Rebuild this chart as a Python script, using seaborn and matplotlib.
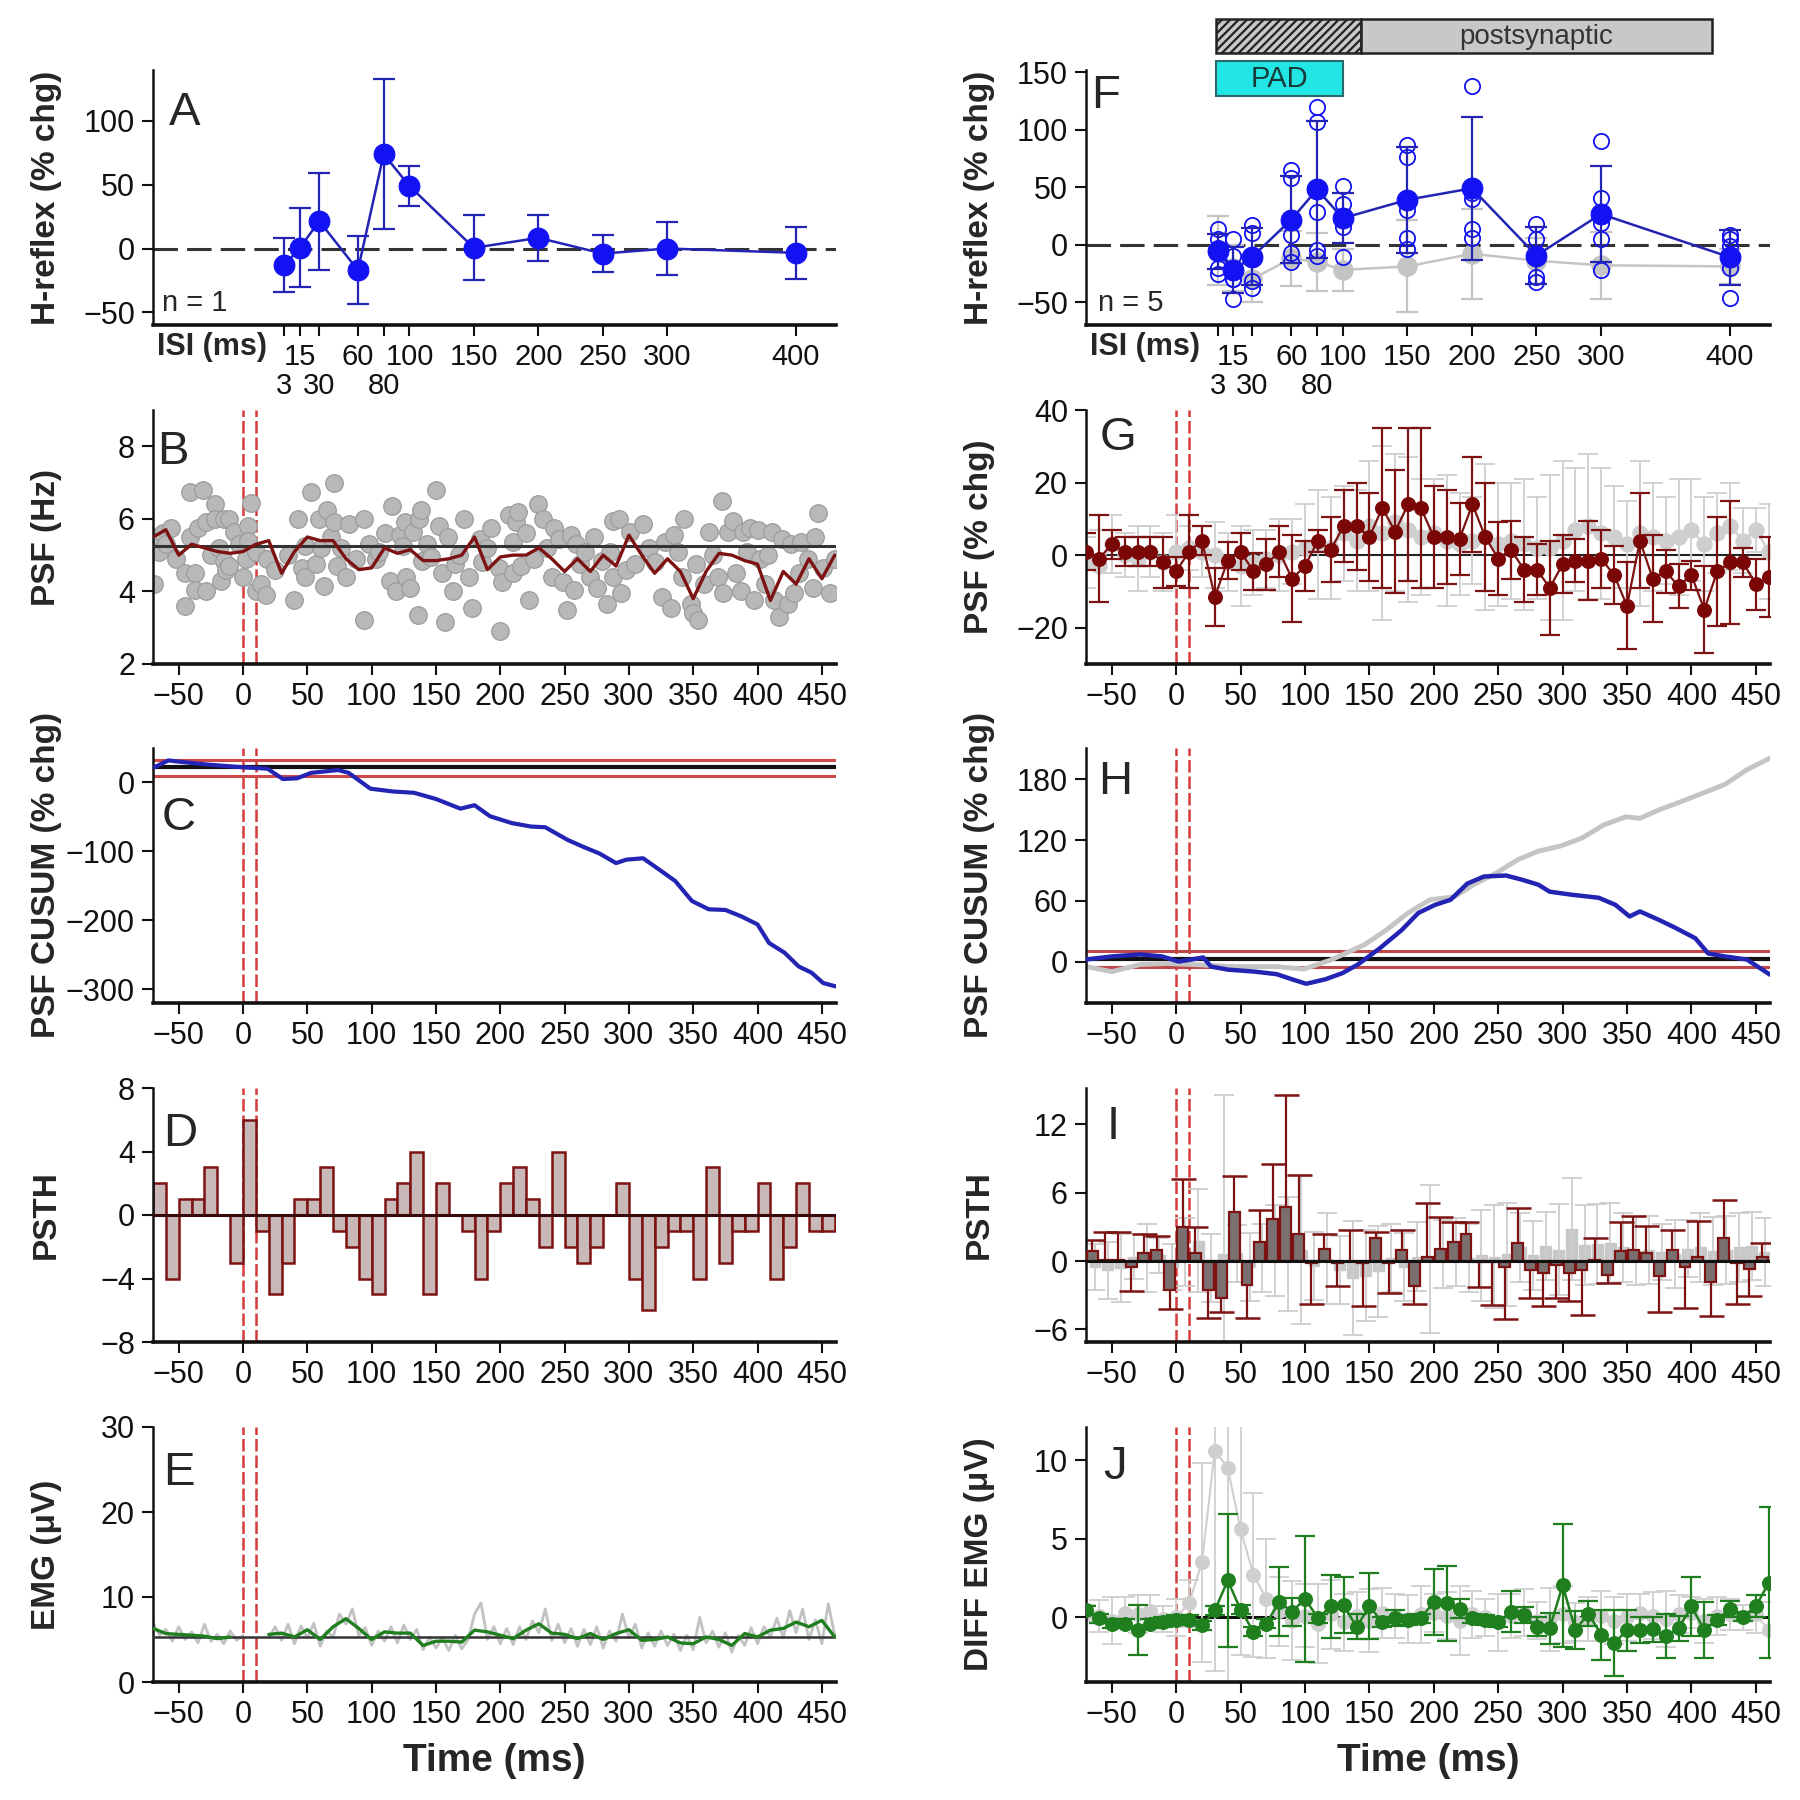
import numpy as np
import pandas as pd
import seaborn as sns
import matplotlib.pyplot as plt
import matplotlib.transforms as mtransforms
from matplotlib.patches import Rectangle

# ---------------- data ----------------
# conditioning-test intervals (A, F)
isi = [3, 15, 30, 60, 80, 100, 150, 200, 250, 300, 400]
isi_upper = [15, 60, 100, 150, 200, 250, 300, 400]
isi_lower = [3, 30, 80]
isi_upper_labels = ['15', '60', '100', '150', '200', '250', '300', '400']
isi_lower_labels = ['3', '30', '80']

hreflex_a = [-13, 0.5, 21.5, -17, 74, 49, 0.5, 8.4, -4, 0, -3.4]
hreflex_a_err = [21.5, 31, 38, 26.5, 59, 16, 25.5, 18, 14.5, 21, 20.5]

hreflex_f = [-6, -22.5, -10.5, 21.7, 48, 23, 39, 49, -9.5, 26.6, -11]
hreflex_f_err = [15, 20, 25, 38, 60, 22, 46, 62, 25, 42, 24]
hreflex_f_ctrl = [-5, -20, -30, -12, -15, -22, -19, -8, -14, -18, -19]
hreflex_f_ctrl_err = [30, 20, 20, 24, 25, 18, 40, 39, 20, 29, 15]
subj1 = [14, 5, 17, 65, 120, 51, 87, 138, 18, 90, 8]
subj2 = [5, -10, 10, 58, 107, 35, 76, 45, 5, 41, 5]
subj3 = [-3, -30, -10, 8, 28, 25, 30, 40, -10, 19, -1.5]
subj4 = [-20, -30, -32, -7, -5, 15, 6, 14, -28, 5, -20]
subj5 = [-26, -47.5, -37.5, -15.5, -10, -11, -4, 6, -32.5, -22, -46.5]

# time axes (ms)
t10 = np.arange(-70, 461, 10)
t5 = np.arange(-70, 461, 5)
psth_d_left = np.arange(-70, 451, 10)
psth_i_mid = np.arange(-65, 456, 10)

# B: single-unit PSF dots and 10 ms bin mean
psf_b_t = [-69, -68, -65, -62, -60, -56, -52, -45, -45, -41, -41, -37, -37, -35, -31, -29, -29, -25,
           -22, -22, -19, -17, -15, -15, -13, -11, -11, -7, -3, 0, 2, 4, 4, 6, 10, 10, 14, 18, 19,
           25, 35, 40, 43, 46, 48, 48, 53, 57, 59, 61, 63, 65, 68, 71, 71, 73, 76, 80, 82, 88, 94,
           94, 98, 103, 106, 110, 114, 116, 119, 122, 124, 126, 127, 130, 132, 136, 137, 138, 139,
           143, 146, 150, 152, 155, 157, 159, 163, 165, 168, 172, 176, 178, 184, 186, 190, 193, 199,
           200, 201, 207, 210, 210, 212, 214, 216, 220, 222, 226, 229, 233, 236, 240, 242, 246, 249,
           252, 255, 257, 259, 262, 266, 270, 273, 275, 279, 283, 285, 288, 288, 292, 294, 298, 301,
           305, 311, 316, 320, 326, 328, 333, 335, 338, 341, 343, 348, 350, 352, 354, 358, 362, 365,
           369, 372, 373, 377, 381, 383, 387, 389, 392, 394, 397, 400, 402, 406, 408, 411, 413, 417,
           419, 424, 426, 428, 432, 434, 439, 443, 445, 447, 451, 456, 460]
psf_b_hz = [4.2, 5.5, 5.1, 5.6, 5.3, 5.75, 4.9, 4.5, 3.6, 6.75, 5.5, 4.5, 4.05, 5.75, 6.8, 4.0, 5.9, 5.0,
            6.4, 6.0, 5.2, 4.3, 6.0, 4.85, 4.6, 6.0, 4.7, 5.65, 5.3, 4.4, 4.9, 5.8, 5.4, 6.45, 5.1, 4.0,
            4.2, 3.9, 4.9, 4.6, 5.0, 3.75, 6.0, 4.65, 5.25, 4.4, 6.75, 4.75, 6.0, 5.2, 4.15, 6.25, 5.5,
            7.0, 5.9, 4.7, 5.2, 4.4, 5.85, 4.9, 6.0, 3.2, 5.3, 4.9, 5.1, 5.6, 4.3, 6.35, 4.0, 5.55, 5.25,
            5.9, 4.4, 4.1, 5.65, 3.35, 6.0, 6.25, 4.85, 5.3, 4.95, 6.8, 5.8, 4.5, 3.15, 5.5, 4.0, 4.75,
            5.0, 6.0, 4.4, 3.55, 5.45, 4.8, 5.2, 5.75, 4.65, 2.9, 4.25, 6.1, 5.35, 4.5, 5.9, 6.2, 4.7,
            5.6, 3.75, 4.9, 6.4, 6.0, 5.2, 4.4, 5.75, 5.45, 4.25, 3.5, 5.55, 4.05, 5.3, 4.75, 5.1, 4.4,
            5.5, 4.1, 4.85, 3.65, 5.1, 5.95, 4.4, 6.0, 3.95, 4.6, 5.65, 4.75, 5.85, 5.2, 4.8, 3.85, 5.35,
            3.55, 5.55, 5.1, 4.4, 6.0, 3.65, 3.4, 4.75, 3.2, 4.2, 5.65, 5.0, 4.4, 6.5, 3.95, 5.65, 5.95,
            4.5, 4.0, 5.65, 5.1, 5.75, 3.75, 5.7, 4.9, 4.2, 5.0, 5.65, 3.75, 3.3, 5.45, 3.65, 5.3, 3.95,
            4.5, 5.35, 4.9, 4.1, 5.5, 6.15, 4.65, 3.95, 4.9]
psf_b_bin = [5.5, 5.7, 5.0, 5.3, 5.2, 5.1, 5.05, 5.1, 5.3, 5.4, 4.5, 5.1, 5.5, 5.4, 5.4, 4.9, 4.6, 4.65,
             5.2, 5.05, 5.15, 4.85, 4.85, 4.9, 5.0, 5.5, 4.6, 4.95, 5.0, 5.0, 5.2, 4.9, 4.55, 4.9, 4.55,
             5.0, 4.7, 5.55, 5.0, 4.5, 4.9, 4.55, 3.8, 4.55, 5.05, 5.0, 4.85, 4.75, 3.75, 4.55, 4.2, 4.9,
             4.35, 5.0]
psf_b_mean = 5.24

# C: single-unit CUSUM
cusum_c_t = [-69, -58, -49, -28, 0, 19, 31, 42, 53, 74, 82, 99, 116, 133, 150, 169, 180, 192, 209, 224,
             235, 252, 264, 277, 290, 298, 311, 324, 336, 349, 362, 375, 387, 400, 409, 421, 432, 442, 451, 461]
cusum_c = [22, 32, 30, 26, 22, 20, 5, 6, 14, 18, 14, -9, -13, -15, -24, -38, -33, -49, -59, -64,
           -65, -83, -93, -103, -117, -112, -110, -127, -143, -172, -184, -185, -194, -206, -233, -247,
           -267, -276, -291, -296]
cusum_c_mean, cusum_c_lo, cusum_c_hi = 22, 10, 33

# D: single-unit PSTH (10 ms bins)
psth_d = [2, -4, 1, 1, 3, 0, -3, 6, -1, -5, -3, 1, 1, 3, -1, -2, -4, -5, 1, 2, 4, -5, 2, 0, -1, -4, -1,
          2, 3, 1, -2, 4, -2, -3, -2, 0, 2, -4, -6, -2, -1, -1, -4, 3, -3, -1, -1, 2, -4, -2, 2, -1, -1]

# E: EMG raw and 10 ms bins
emg_raw = [7.0, 5.5, 6.2, 4.8, 6.5, 5.0, 5.9, 4.6, 6.8, 4.8, 5.6, 4.5, 6.0, 4.9, 5.5, np.nan, np.nan, np.nan,
           5.2, 6.5, 4.9, 6.8, 4.5, 6.6, 5.2, 6.9, 4.2, 6.0, 5.3, 8.0, 6.8, 8.6, 5.5, 6.4, 4.3,
           6.0, 4.8, 6.5, 4.6, 6.7, 5.0, 6.2, 3.8, 5.3, 4.0, 5.2, 3.7, 5.5, 3.9, 5.0, 8.0, 9.3, 5.0, 6.5, 4.5,
           6.3, 4.4, 6.5, 5.0, 7.2, 5.8, 8.6, 4.9, 6.8, 4.6, 6.3, 4.2, 6.2, 4.4, 6.5, 4.0, 6.0, 4.8, 8.0, 5.2,
           6.8, 4.0, 5.8, 4.2, 6.0, 4.3, 5.6, 3.7, 5.5, 3.8, 7.6, 4.6, 6.0, 4.1, 5.8, 3.5, 5.5, 4.3, 6.4, 4.5,
           6.5, 5.3, 7.5, 5.2, 8.4, 5.8, 8.6, 5.0, 7.3, 4.5, 9.2, 5.5]
emg_bin = [6.3, 5.7, 5.6, 5.5, 5.4, 5.1, 5.3, np.nan, np.nan, 5.6, 5.75, 5.3, 6.15, 5.0, 6.5, 7.45, 6.3, 5.0,
           5.9, 5.75, 5.75, 4.3, 4.8, 4.8, 4.7, 6.1, 5.9, 5.5, 5.1, 6.1, 6.85, 5.75, 5.6, 5.1, 5.7, 5.0,
           5.7, 6.15, 4.9, 5.0, 5.3, 4.6, 4.5, 5.3, 5.0, 4.3, 5.7, 5.3, 6.1, 6.3, 7.05, 6.5, 7.25, 5.3]
emg_mean = 5.3

# G: group PSF (% change)
psf_g = [1, -1, 3, 1, 1, 1, -2, -4.5, 1, 4, -11.5, -1.5, 1, -4.5, -2.5, 1, -6.5, -3, 4, 1.5, 8, 8, 5, 13,
         6.5, 14, 13, 5, 5, 4.5, 14, 5, -1, 1.5, -4, -4, -9, -2.5, -1.5, -1.5, -1, -5.5, -14, 4, -6.5,
         -4.5, -8.5, -5.5, -15, -4.5, -2, -2, -8, -6]
psf_g_err = [5, 12, 4, 4, 4, 4, 7, 4, 10, 4, 8, 5, 5, 5, 7, 7, 12, 7, 3, 9, 10, 12, 12, 22, 17, 21, 22,
             14, 13, 10, 13, 15, 10, 8, 9, 7, 13, 8, 6, 11, 8, 8, 12, 13, 12, 6, 6, 4, 12, 15, 17, 4, 7, 11]
psf_g_ctrl = [-2, -3, 3, 0, -1, 1, -2, 1, 2, 1, 0, -2, -3, -2, -1, 0, 1, 2, 3, 2, 6, 4, 8, 6, 9, 7, 5,
              6, 4, 3, 4, 5, 3, 4, 3, 2, 2, 4, 7, 8, 6, 5, 3, 6, 5, 4, 5, 7, 3, 6, 8, 4, 7, 1]
psf_g_ctrl_err = [7, 10, 8, 6, 9, 7, 8, 10, 6, 7, 9, 8, 11, 9, 8, 10, 9, 12, 15, 14, 13, 14, 18, 24,
                  19, 20, 16, 15, 18, 14, 12, 20, 17, 16, 18, 14, 20, 22, 17, 20, 18, 14, 12, 20, 15,
                  12, 16, 14, 13, 11, 12, 9, 6, 13]

# H: group CUSUM
cusum_h_t = [-70, -50, -28, -11, 2, 12, 21, 27, 40, 61, 78, 91, 101, 116, 129, 141, 158, 175, 188, 201,
             213, 226, 239, 256, 268, 281, 290, 307, 328, 341, 352, 360, 375, 388, 403, 413, 426, 443, 461]
cusum_h = [2, 5, 7, 5, 0, 2, 4, -5, -8, -10, -12.5, -18, -22, -17.5, -11.5, -3, 13, 31, 48, 56,
           61, 77, 84, 85, 81, 76, 69, 66, 63, 56, 44.5, 49.5, 41, 33, 23, 8, 5, 2, -13]
cusum_h_ctrl_t = [-70, -50, -28, -7, 14, 44, 78, 99, 120, 146, 163, 180, 197, 216, 231, 248, 265, 281,
                  298, 315, 332, 349, 360, 375, 392, 409, 426, 443, 461]
cusum_h_ctrl = [-5, -10, -3, -2, -3, -5, -5, -7.5, 1.5, 16.5, 31, 48, 61, 64, 76, 87, 100.5, 109, 114,
                122, 135, 143, 141.5, 150, 158, 166.5, 175, 189.5, 201]
cusum_h_mean, cusum_h_lo, cusum_h_hi = 2.6, -5, 10

# I: group PSTH
psth_i = [0.85, 0.1, 0.1, -0.5, 0.7, 1.0, -2.5, 3.0, 0.7, -2.5, -3.2, 4.3, -2.1, 1.7, 3.7, 4.75, 2.4,
          -0.2, 1.1, -0.2, 0.05, -0.2, 2.0, -0.2, 1.0, -2.2, 0.4, 1.1, 1.7, 2.4, -0.05, -0.05, -0.5, 1.6,
          -0.75, -1.0, -0.3, -1.0, -0.75, 0.1, -1.2, 0.85, 1.0, 0.75, -1.3, 1.0, -0.5, 0.4, -1.8, 2.0,
          -0.2, -0.7, 0.4]
psth_i_err = [1.0, 2.5, 2.5, 2.1, 1.7, 1.2, 1.7, 4.2, 2.3, 2.5, 1.3, 3.2, 2.9, 2.8, 4.8, 9.85, 5.2, 3.6,
              1.3, 2.0, 2.7, 3.7, 0.6, 2.6, 1.7, 1.6, 4.7, 2.8, 1.7, 1.0, 2.2, 3.8, 4.6, 3.1, 2.45, 2.9,
              2.9, 2.5, 3.95, 1.9, 0.7, 2.55, 3.0, 2.35, 3.2, 1.7, 3.6, 3.1, 3.0, 3.4, 3.6, 2.4, 1.2]
psth_i_ctrl = [-0.5, -0.8, -0.6, 0.4, 0.3, 0.5, -0.5, 0.8, 1.8, -0.6, 0.6, 0.7, -0.5, 0.3, 0.9, 0.6, 1.0,
               -0.4, 0.2, -0.8, -1.5, -1.3, -0.9, 0.3, -0.5, 0.4, 0.2, 0.6, 0.8, 0.3, 0.5, 0.4, 0.6, 1.2,
               0.5, 1.3, 1.0, 2.8, 1.4, 1.5, 1.6, 1.2, 0.9, 1.0, 0.8, 0.6, 1.1, 1.2, 0.9, 1.0, 1.2, 1.3, 0.8]
psth_i_ctrl_err = [2, 2.5, 3, 2, 3, 1.5, 2, 3, 4.5, 3, 14, 2.5, 3, 3, 4, 5, 6.5, 3, 4, 3, 5, 4, 4, 3,
                   3, 3, 6.5, 3, 3, 3, 4, 4.5, 4.5, 3, 3, 3, 4, 4.5, 3.5, 3.5, 3.5, 3, 3, 3, 2.5, 3,
                   2.5, 3, 3, 3, 3, 3, 3]

# J: group EMG difference
emg_j = [0.45, -0.05, -0.4, -0.4, -0.8, -0.4, -0.3, -0.15, -0.15, -0.5, 0.45, 2.35, 0.5, -0.9, -0.4,
         1.0, 0.35, 1.2, -0.05, 0.7, 0.8, -0.6, 0.7, -0.3, -0.05, -0.15, -0.05, 1.0, 0.9, 0.55, -0.05,
         -0.15, -0.3, 0.35, 0.15, -0.6, -0.7, 2.05, -0.8, 0.25, -1.1, -1.65, -0.8, -0.8, -0.75, -1.2,
         -0.7, 0.7, -0.8, -0.15, 0.55, 0.05, 0.7, 2.2]
emg_j_err = [0.3, 0.3, 0.3, 0.3, 1.6, 0.3, 0.3, 0.3, 0.3, 0.3, 0.3, 4.2, 0.3, 0.3, 0.3, 2.2, 0.9, 4.0,
             0.3, 2.0, 1.8, 0.8, 2.1, 0.3, 0.5, 0.3, 0.3, 2.1, 2.4, 0.6, 0.3, 0.3, 0.3, 1.3, 0.5, 0.6,
             1.0, 3.9, 1.2, 0.8, 1.6, 2.1, 1.3, 0.8, 0.8, 1.4, 0.8, 1.9, 1.8, 0.3, 0.5, 0.3, 0.7, 4.8]
emg_j_ctrl = [0.3, 0.1, -0.2, 0.3, 0.2, 0.4, -0.1, 0.0, 0.9, 3.5, 10.6, 9.5, 5.6, 2.7, 1.2, 0.4, -0.2,
              0.1, -0.4, 0.2, -0.3, 0.1, -0.2, 0.3, 0.1, -0.1, 0.2, 0.3, 0.1, -0.2, 0.2, 0.0, -0.3, 0.1,
              0.3, -0.2, -0.1, 0.2, -0.3, -0.1, 0.1, -0.2, 0.0, 0.3, 0.1, -0.1, 0.2, 0.3, -0.2, 0.1,
              0.2, 0.0, 0.2, -0.8]
emg_j_ctrl_err = [0.5, 1.0, 1.5, 1.0, 1.2, 1.0, 0.8, 1.2, 1.5, 6.3, 14, 14, 8, 5.2, 3.8, 2.2, 2.5, 2.0,
                  2.5, 2.2, 1.8, 1.5, 2.0, 1.6, 1.4, 1.5, 1.8, 1.2, 1.5, 2.2, 1.5, 1.2, 1.8, 1.4, 1.5,
                  1.2, 2.0, 1.8, 1.2, 1.4, 1.6, 1.5, 1.5, 1.2, 1.5, 1.8, 1.2, 1.0, 1.4, 1.2, 1.0, 0.8,
                  1.2, 1.8]

# ---------------- style ----------------
sns.set_style('ticks')
WIDE = ['Liberation Sans', 'DejaVu Sans']
plt.rcParams['font.family'] = ['Liberation Sans Narrow', 'Liberation Sans', 'DejaVu Sans']
plt.rcParams['hatch.linewidth'] = 1.6

BLUE = '#1212f2'
BLUE_LINE = '#2424b4'
DARKRED = '#7d1212'
RED = '#d63a3a'
GRAY = '#c4c4c4'
GREEN = '#1f7f1f'
TIME_TICKS = list(range(-50, 451, 50))

fig = plt.figure(figsize=(18, 18), dpi=100)


def panel(l, t, r, b):
    return fig.add_axes([l / 1800, 1 - b / 1800, (r - l) / 1800, (b - t) / 1800])


def dress(ax, ylabel, letter, lx, ly, ylim, yticks, xlim=(-70, 461), xticks=TIME_TICKS):
    ax.set_xlim(*xlim)
    ax.set_ylim(*ylim)
    ax.set_yticks(yticks)
    ax.set_xticks(xticks)
    sns.despine(ax=ax)
    ax.spines['left'].set_linewidth(1.8)
    ax.spines['bottom'].set_linewidth(2.6)
    ax.spines['left'].set_color('#111111')
    ax.spines['bottom'].set_color('#111111')
    ax.tick_params(direction='out', length=8, width=1.5, labelsize=22, pad=5, colors='#111111')
    ax.set_ylabel(ylabel, fontsize=24, fontweight='bold', family=WIDE)
    ax.yaxis.set_label_coords(-0.133, 0.5)
    ax.text(lx, ly, letter, transform=ax.transAxes, fontsize=34, family=WIDE, va='center', ha='left')


def isi_axis(ax, label_y):
    # two rows of ISI labels: the short intervals sit on a second, lower row
    ax.set_xticks(isi_upper, labels=isi_upper_labels)
    ax.set_xticks(isi_lower, labels=isi_lower_labels, minor=True)
    ax.tick_params(axis='x', which='major', labelsize=21)
    ax.tick_params(axis='x', which='minor', direction='out', length=8, width=1.5,
                   labelsize=21, pad=26, colors='#111111')
    trans = mtransforms.blended_transform_factory(ax.transData, ax.transAxes)
    ax.text(-96, label_y, 'ISI (ms)', transform=trans, fontsize=22, fontweight='bold', va='center')


def stim_lines(ax):
    for x in (0, 10):
        ax.axvline(x, color=RED, lw=1.8, ls=(0, (5, 1.6)), zorder=1)


LEFT = (153, 836)
RIGHT = (1086, 1770)
ROWS = [(70, 325), (410, 664), (748, 1003), (1088, 1342), (1427, 1682)]

# ---- A ----
ax = panel(LEFT[0], ROWS[0][0], LEFT[1], ROWS[0][1])
ax.axhline(0, color='#333333', lw=2.2, ls=(0, (8, 3)), zorder=1)
ax.errorbar(isi, hreflex_a, yerr=hreflex_a_err, fmt='none', ecolor=BLUE_LINE, elinewidth=1.6,
            capsize=8, capthick=1.6, zorder=2)
sns.lineplot(x=isi, y=hreflex_a, ax=ax, color=BLUE_LINE, lw=1.8, marker='o', markersize=15,
             markerfacecolor=BLUE, markeredgecolor=BLUE, zorder=3)
dress(ax, 'H-reflex (% chg)', 'A', 0.023, 0.83, (-60, 140), [-50, 0, 50, 100],
      xlim=(-99, 431), xticks=isi_upper)
isi_axis(ax, -0.085)
ax.text(-92, -43, 'n = 1', fontsize=21, va='center')

# ---- F ----
ax = panel(RIGHT[0], ROWS[0][0], RIGHT[1], ROWS[0][1])
ax.axhline(0, color='#333333', lw=2.2, ls=(0, (8, 3)), zorder=1)
ax.errorbar(isi, hreflex_f_ctrl, yerr=hreflex_f_ctrl_err, fmt='none', ecolor=GRAY, elinewidth=1.6,
            capsize=8, capthick=1.6, zorder=1)
sns.lineplot(x=isi, y=hreflex_f_ctrl, ax=ax, color=GRAY, lw=1.8, marker='o', markersize=14,
             markerfacecolor=GRAY, markeredgecolor=GRAY, zorder=1.5)
for subj in (subj1, subj2, subj3, subj4, subj5):
    ax.plot(isi, subj, 'o', mfc='none', mec=BLUE, ms=11, mew=1.3, zorder=2)
ax.errorbar(isi, hreflex_f, yerr=hreflex_f_err, fmt='none', ecolor=BLUE_LINE, elinewidth=1.6,
            capsize=8, capthick=1.6, zorder=3)
sns.lineplot(x=isi, y=hreflex_f, ax=ax, color=BLUE_LINE, lw=1.8, marker='o', markersize=15,
             markerfacecolor=BLUE, markeredgecolor=BLUE, zorder=4)
dress(ax, 'H-reflex (% chg)', 'F', 0.007, 0.9, (-70, 152), [-50, 0, 50, 100, 150],
      xlim=(-99, 431), xticks=isi_upper)
isi_axis(ax, -0.085)
ax.text(-90, -51, 'n = 5', fontsize=21, va='center')
# presynaptic / postsynaptic and PAD boxes above the panel
ax.add_patch(Rectangle((2, 166.5), 112, 29.5, facecolor='#c8c8c8', edgecolor='#222222',
                       hatch='////', lw=1.8, clip_on=False))
ax.add_patch(Rectangle((114, 166.5), 272, 29.5, facecolor='#c8c8c8', edgecolor='#222222',
                       lw=1.8, clip_on=False))
ax.text(250, 181, 'postsynaptic', fontsize=20, ha='center', va='center', color='#333333')
ax.add_patch(Rectangle((1.5, 129), 98.5, 30.5, facecolor='#22e6e6', edgecolor='#2a6a6a',
                       lw=1.5, clip_on=False, zorder=5))
ax.text(51, 144, 'PAD', fontsize=21, ha='center', va='center', color='#1a3a3a', zorder=6)

# ---- B ----
ax = panel(LEFT[0], ROWS[1][0], LEFT[1], ROWS[1][1])
stim_lines(ax)
sns.scatterplot(x=psf_b_t, y=psf_b_hz, ax=ax, s=160, color='#b8b8b8', edgecolor='#9c9c9c',
                linewidth=0.9, zorder=2)
ax.axhline(psf_b_mean, color='#333333', lw=2.2, zorder=3)
sns.lineplot(x=t10, y=psf_b_bin, ax=ax, color=DARKRED, lw=2.4, zorder=4)
dress(ax, 'PSF (Hz)', 'B', 0.006, 0.835, (2, 9), [2, 4, 6, 8])

# ---- G ----
ax = panel(RIGHT[0], ROWS[1][0], RIGHT[1], ROWS[1][1])
stim_lines(ax)
ax.axhline(0, color='#222222', lw=1.5, zorder=1)
ax.errorbar(t10, psf_g_ctrl, yerr=psf_g_ctrl_err, fmt='none', ecolor='#cfcfcf', elinewidth=1.3,
            capsize=7, capthick=1.3, zorder=1)
sns.lineplot(x=t10, y=psf_g_ctrl, ax=ax, color='#cfcfcf', lw=1.5, marker='o', markersize=11,
             markerfacecolor='#cfcfcf', markeredgecolor='#cfcfcf', zorder=1.5)
ax.errorbar(t10, psf_g, yerr=psf_g_err, fmt='none', ecolor=DARKRED, elinewidth=1.6,
            capsize=7, capthick=1.6, zorder=2)
sns.lineplot(x=t10, y=psf_g, ax=ax, color=DARKRED, lw=1.6, marker='o', markersize=10,
             markerfacecolor='#7a0606', markeredgecolor='#7a0606', zorder=3)
dress(ax, 'PSF (% chg)', 'G', 0.02, 0.89, (-30, 40), [-20, 0, 20, 40])

# ---- C ----
ax = panel(LEFT[0], ROWS[2][0], LEFT[1], ROWS[2][1])
stim_lines(ax)
ax.axhline(cusum_c_mean, color='#111111', lw=3, zorder=2)
for lvl in (cusum_c_lo, cusum_c_hi):
    ax.axhline(lvl, color='#d04848', lw=2.2, zorder=2)
sns.lineplot(x=cusum_c_t, y=cusum_c, ax=ax, color=BLUE_LINE, lw=3, sort=False, zorder=3)
dress(ax, 'PSF CUSUM (% chg)', 'C', 0.012, 0.725, (-320, 50), [-300, -200, -100, 0])

# ---- H ----
ax = panel(RIGHT[0], ROWS[2][0], RIGHT[1], ROWS[2][1])
stim_lines(ax)
ax.axhline(cusum_h_mean, color='#111111', lw=3, zorder=2)
for lvl in (cusum_h_lo, cusum_h_hi):
    ax.axhline(lvl, color='#c04848', lw=2.2, zorder=2)
sns.lineplot(x=cusum_h_ctrl_t, y=cusum_h_ctrl, ax=ax, color='#c4c4c4', lw=3.5, sort=False, zorder=2.5)
sns.lineplot(x=cusum_h_t, y=cusum_h, ax=ax, color=BLUE_LINE, lw=3.2, sort=False, zorder=3)
dress(ax, 'PSF CUSUM (% chg)', 'H', 0.018, 0.867, (-41, 211), [0, 60, 120, 180])

# ---- D ----
ax = panel(LEFT[0], ROWS[3][0], LEFT[1], ROWS[3][1])
stim_lines(ax)
ax.bar(psth_d_left, psth_d, width=10, align='edge', color='#c9b8b8', edgecolor=DARKRED, lw=1.8, zorder=2)
ax.axhline(0, color='#3a0a0a', lw=2.2, zorder=3)
dress(ax, 'PSTH', 'D', 0.015, 0.82, (-8, 8), [-8, -4, 0, 4, 8])

# ---- I ----
ax = panel(RIGHT[0], ROWS[3][0], RIGHT[1], ROWS[3][1])
stim_lines(ax)
ax.bar(psth_i_mid + 2, psth_i_ctrl, width=8.5, color='#c8c8c8', edgecolor='#c8c8c8', lw=1, zorder=1)
ax.errorbar(psth_i_mid + 2, psth_i_ctrl, yerr=psth_i_ctrl_err, fmt='none', ecolor='#cdcdcd',
            elinewidth=1.3, capsize=7, capthick=1.3, zorder=1)
vals = np.array(psth_i)
ends = np.where(vals >= 0, vals + np.array(psth_i_err), vals - np.array(psth_i_err))
ax.vlines(psth_i_mid, vals, ends, color=DARKRED, lw=1.6, zorder=2)
ax.plot(psth_i_mid, ends, ls='none', marker='_', ms=18, mew=1.8, color=DARKRED, zorder=2)
ax.bar(psth_i_mid, psth_i, width=8.5, color='#7b7070', edgecolor=DARKRED, lw=1.6, zorder=3)
ax.axhline(0, color='#111111', lw=2.2, zorder=4)
dress(ax, 'PSTH', 'I', 0.03, 0.845, (-7.1, 15.2), [-6, 0, 6, 12])

# ---- E ----
ax = panel(LEFT[0], ROWS[4][0], LEFT[1], ROWS[4][1])
stim_lines(ax)
ax.plot(t5, emg_raw, color='#c2c2c2', lw=2, zorder=2)
ax.axhline(emg_mean, color='#333333', lw=1.8, zorder=3)
ax.plot(t10, emg_bin, color=GREEN, lw=2.4, zorder=4)
dress(ax, 'EMG (μV)', 'E', 0.015, 0.82, (0, 30), [0, 10, 20, 30])
ax.set_xlabel('Time (ms)', fontsize=28, fontweight='bold')
ax.xaxis.set_label_coords(0.5, -0.24)

# ---- J ----
ax = panel(RIGHT[0], ROWS[4][0], RIGHT[1], ROWS[4][1])
stim_lines(ax)
ax.axhline(0, color='#111111', lw=2.2, zorder=1)
ax.errorbar(t10, emg_j_ctrl, yerr=emg_j_ctrl_err, fmt='none', ecolor='#cfcfcf', elinewidth=1.3,
            capsize=7, capthick=1.3, zorder=1)
sns.lineplot(x=t10, y=emg_j_ctrl, ax=ax, color='#cfcfcf', lw=1.5, marker='o', markersize=10,
             markerfacecolor='#cfcfcf', markeredgecolor='#cfcfcf', zorder=1.5)
ax.errorbar(t10, emg_j, yerr=emg_j_err, fmt='none', ecolor=GREEN, elinewidth=1.6,
            capsize=7, capthick=1.6, zorder=2)
sns.lineplot(x=t10, y=emg_j, ax=ax, color=GREEN, lw=1.8, marker='o', markersize=10,
             markerfacecolor=GREEN, markeredgecolor=GREEN, zorder=3)
dress(ax, 'DIFF EMG (μV)', 'J', 0.025, 0.843, (-4.1, 12.1), [0, 5, 10])
ax.set_xlabel('Time (ms)', fontsize=28, fontweight='bold')
ax.xaxis.set_label_coords(0.5, -0.24)

fig.savefig('out.png', dpi=100, facecolor='white')
